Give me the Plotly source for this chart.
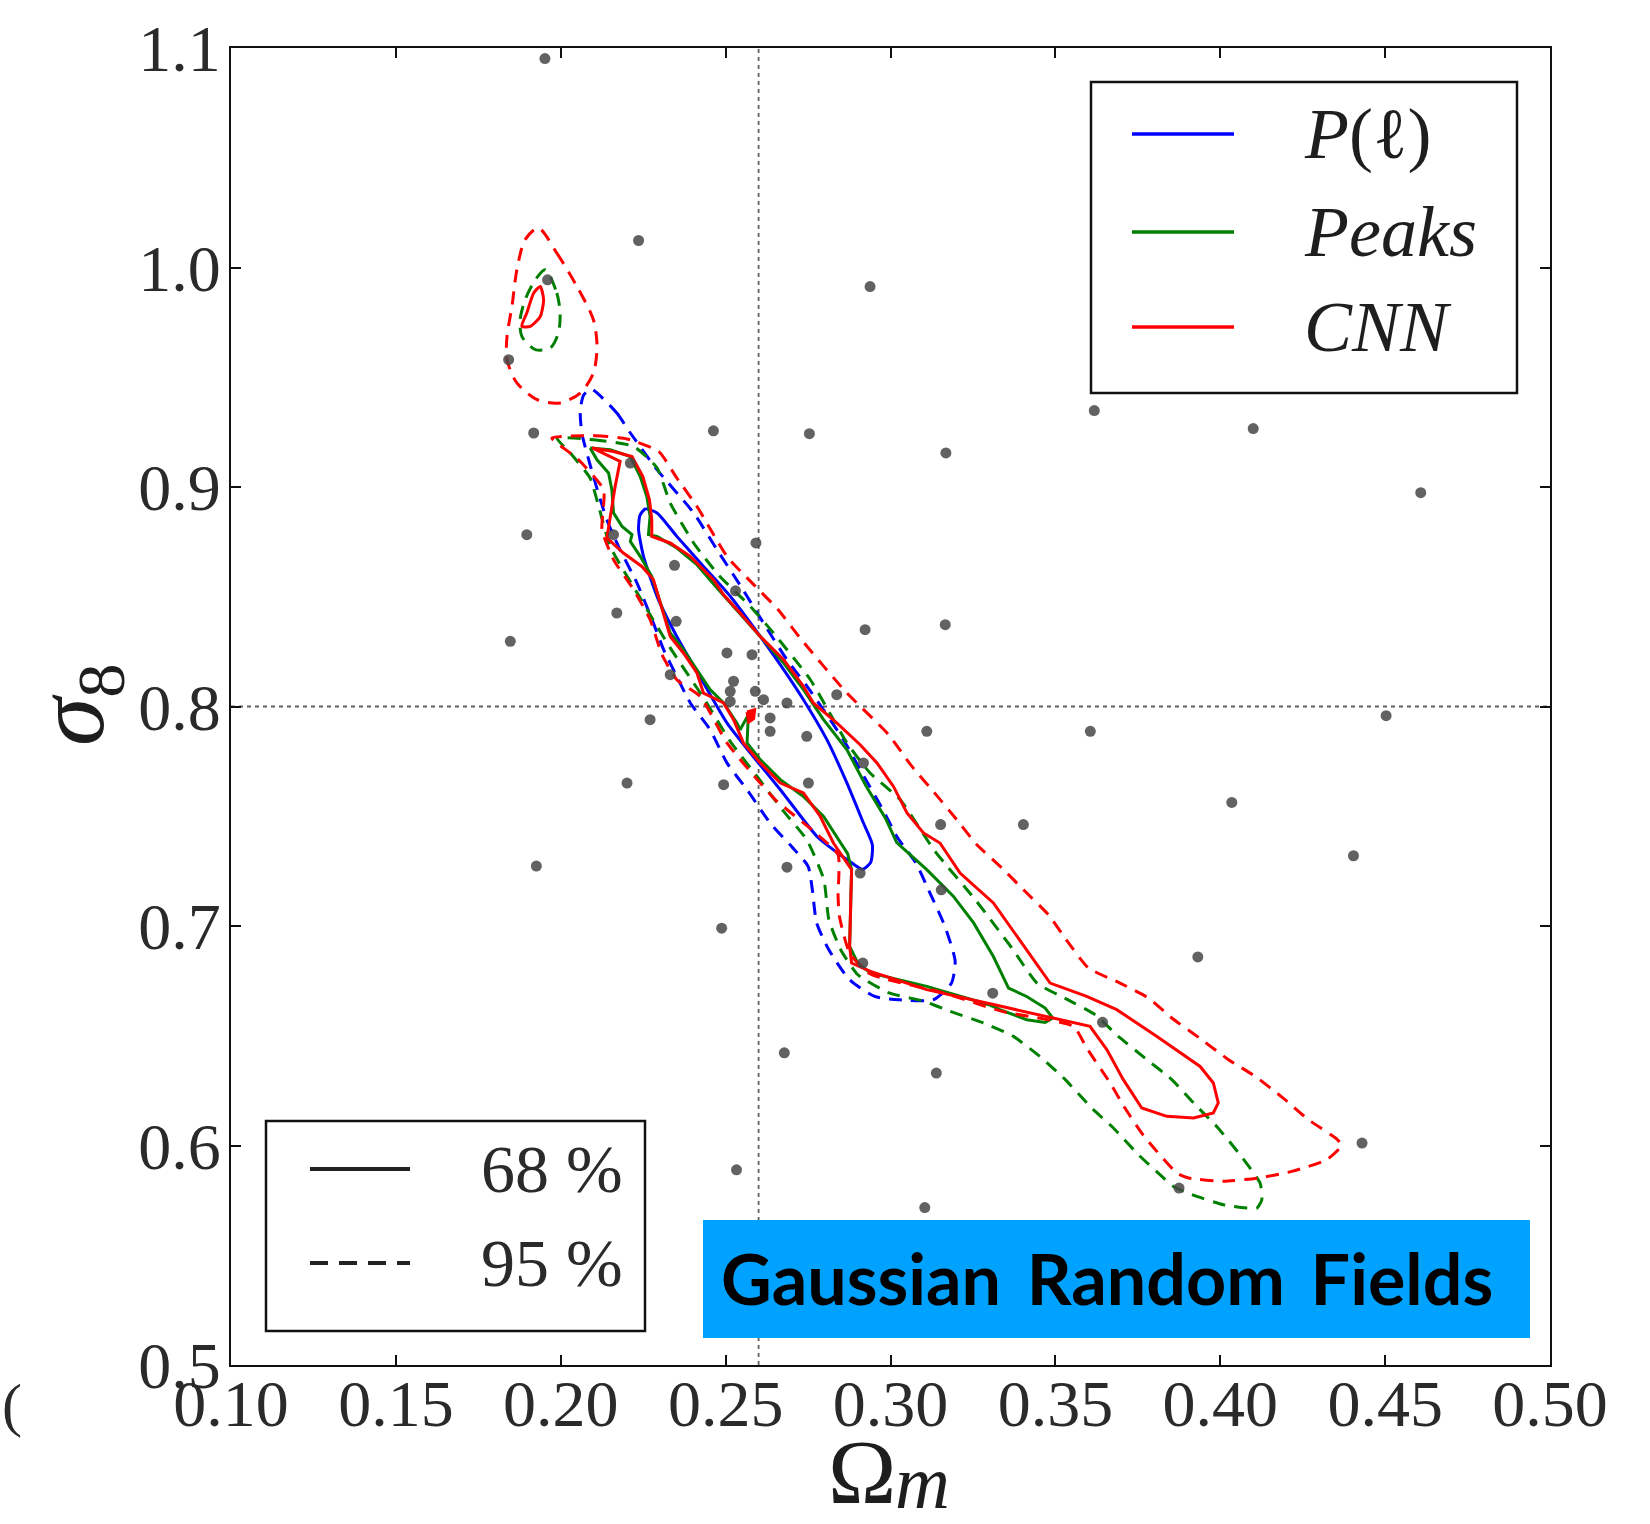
import plotly.graph_objects as go

# ---------------- data ----------------
OM_RANGE = [0.10, 0.50]
S8_RANGE = [0.50, 1.10]
OM_TICKS = [0.10, 0.15, 0.20, 0.25, 0.30, 0.35, 0.40, 0.45, 0.50]
OM_TICK_LABELS = ["0.10", "0.15", "0.20", "0.25", "0.30", "0.35", "0.40", "0.45", "0.50"]
S8_TICKS = [0.5, 0.6, 0.7, 0.8, 0.9, 1.0, 1.1]
S8_TICK_LABELS = ["0.5", "0.6", "0.7", "0.8", "0.9", "1.0", "1.1"]

OM_FID = 0.26
S8_FID = 0.80

# simulated cosmologies (grey points): (Omega_m, sigma_8)
SIMS = [
    (0.1952, 1.0952), (0.2236, 1.0123), (0.2938, 0.9913), (0.1960, 0.9944),
    (0.1842, 0.9580), (0.1918, 0.9246), (0.2463, 0.9256), (0.2754, 0.9243),
    (0.3168, 0.9155), (0.3618, 0.9348), (0.4100, 0.9266), (0.4608, 0.8974),
    (0.2211, 0.9109), (0.1897, 0.8783), (0.2160, 0.8783), (0.2345, 0.8643),
    (0.2592, 0.8745), (0.2530, 0.8527), (0.2170, 0.8426), (0.1847, 0.8297),
    (0.2350, 0.8388), (0.2504, 0.8244), (0.2580, 0.8236), (0.2332, 0.8145),
    (0.2524, 0.8115), (0.2514, 0.8069), (0.2590, 0.8069), (0.2514, 0.8023),
    (0.2615, 0.8031), (0.2686, 0.8016), (0.2837, 0.8054), (0.2923, 0.8350),
    (0.3166, 0.8373), (0.2271, 0.7940), (0.2635, 0.7948), (0.2635, 0.7887),
    (0.2746, 0.7864), (0.3110, 0.7887), (0.3606, 0.7887), (0.4503, 0.7958),
    (0.2918, 0.7743), (0.2201, 0.7651), (0.2494, 0.7644), (0.2751, 0.7651),
    (0.3152, 0.7462), (0.3403, 0.7462), (0.4035, 0.7563), (0.4404, 0.7320),
    (0.1926, 0.7273), (0.2686, 0.7268), (0.2908, 0.7241), (0.3154, 0.7165),
    (0.2488, 0.6990), (0.3932, 0.6859), (0.2916, 0.6831), (0.3310, 0.6694),
    (0.3643, 0.6561), (0.2678, 0.6422), (0.3139, 0.6330), (0.4430, 0.6011),
    (0.3875, 0.5806), (0.2533, 0.5889), (0.3104, 0.5717),
]

# P(l) contours
PL_68 = [
    (0.2256, 0.8900), (0.2292, 0.8882), (0.2352, 0.8775), (0.2433, 0.8638),
    (0.2514, 0.8502), (0.2605, 0.8319), (0.2676, 0.8168), (0.2736, 0.8031),
    (0.2807, 0.7849), (0.2868, 0.7651), (0.2918, 0.7469), (0.2945, 0.7370),
    (0.2940, 0.7290), (0.2915, 0.7258), (0.2880, 0.7290), (0.2826, 0.7348),
    (0.2777, 0.7408), (0.2666, 0.7621), (0.2575, 0.7788), (0.2504, 0.7925),
    (0.2433, 0.8107), (0.2352, 0.8319), (0.2292, 0.8502), (0.2251, 0.8684),
    (0.2236, 0.8805), (0.2240, 0.8870), (0.2256, 0.8900),
]
PL_95 = [
    (0.2092, 0.9447), (0.2170, 0.9337), (0.2211, 0.9246), (0.2292, 0.9079),
    (0.2403, 0.8882), (0.2474, 0.8714), (0.2545, 0.8550), (0.2615, 0.8380),
    (0.2686, 0.8213), (0.2747, 0.8092), (0.2857, 0.7849), (0.2920, 0.7680),
    (0.2977, 0.7530), (0.3019, 0.7408), (0.3077, 0.7287), (0.3115, 0.7165),
    (0.3165, 0.6998), (0.3196, 0.6840), (0.3185, 0.6740), (0.3130, 0.6664),
    (0.3027, 0.6664), (0.2952, 0.6679), (0.2876, 0.6755), (0.2813, 0.6892),
    (0.2776, 0.7014), (0.2763, 0.7165), (0.2750, 0.7272), (0.2700, 0.7362),
    (0.2635, 0.7469), (0.2565, 0.7621), (0.2504, 0.7743), (0.2453, 0.7894),
    (0.2393, 0.8016), (0.2352, 0.8137), (0.2312, 0.8259), (0.2281, 0.8380),
    (0.2231, 0.8563), (0.2180, 0.8714), (0.2140, 0.8850), (0.2099, 0.9048),
    (0.2064, 0.9246), (0.2059, 0.9352), (0.2070, 0.9420), (0.2092, 0.9447),
]

# Peaks contours
PEAKS_68 = [
    (0.2089, 0.9178), (0.2150, 0.9170), (0.2211, 0.9139), (0.2241, 0.9048),
    (0.2261, 0.8957), (0.2271, 0.8866), (0.2266, 0.8783), (0.2292, 0.8775),
    (0.2352, 0.8722), (0.2413, 0.8646), (0.2474, 0.8540), (0.2534, 0.8441),
    (0.2605, 0.8319), (0.2676, 0.8198), (0.2736, 0.8077), (0.2797, 0.7940),
    (0.2868, 0.7803), (0.2925, 0.7640), (0.2985, 0.7490), (0.3019, 0.7380),
    (0.3110, 0.7257), (0.3191, 0.7135), (0.3252, 0.7014), (0.3312, 0.6861),
    (0.3358, 0.6717), (0.3413, 0.6679), (0.3469, 0.6626), (0.3492, 0.6581),
    (0.3469, 0.6561), (0.3413, 0.6573), (0.3332, 0.6619), (0.3302, 0.6640),
    (0.3110, 0.6725), (0.2939, 0.6786), (0.2901, 0.6831), (0.2876, 0.6907),
    (0.2882, 0.7257), (0.2870, 0.7330), (0.2797, 0.7499), (0.2736, 0.7590),
    (0.2666, 0.7667), (0.2605, 0.7758), (0.2565, 0.7834), (0.2569, 0.7963),
    (0.2544, 0.7894), (0.2534, 0.7925), (0.2494, 0.8016), (0.2453, 0.8077),
    (0.2413, 0.8168), (0.2372, 0.8259), (0.2332, 0.8335), (0.2302, 0.8472),
    (0.2276, 0.8593), (0.2241, 0.8684), (0.2211, 0.8752), (0.2216, 0.8783),
    (0.2186, 0.8820), (0.2160, 0.8882), (0.2155, 0.8988), (0.2145, 0.9064),
    (0.2110, 0.9124), (0.2089, 0.9178),
]
PEAKS_95 = [
    (0.1988, 0.9223), (0.2100, 0.9215), (0.2221, 0.9185), (0.2292, 0.9087),
    (0.2332, 0.8927), (0.2403, 0.8745), (0.2478, 0.8600), (0.2575, 0.8456),
    (0.2645, 0.8335), (0.2757, 0.8122), (0.2868, 0.7834), (0.2938, 0.7697),
    (0.3029, 0.7576), (0.3135, 0.7340), (0.3257, 0.7120), (0.3368, 0.6900),
    (0.3444, 0.6740), (0.3530, 0.6670), (0.3621, 0.6596), (0.3691, 0.6497),
    (0.3772, 0.6398), (0.3853, 0.6300), (0.3924, 0.6186), (0.3994, 0.6079),
    (0.4060, 0.5958), (0.4121, 0.5828), (0.4126, 0.5753), (0.4111, 0.5715),
    (0.4010, 0.5730), (0.3914, 0.5776), (0.3858, 0.5813), (0.3823, 0.5859),
    (0.3752, 0.5958), (0.3681, 0.6072), (0.3610, 0.6171), (0.3530, 0.6300),
    (0.3459, 0.6398), (0.3373, 0.6497), (0.3282, 0.6558), (0.3181, 0.6611),
    (0.3102, 0.6657), (0.2996, 0.6695), (0.2901, 0.6778), (0.2849, 0.6892),
    (0.2813, 0.7029), (0.2798, 0.7211), (0.2746, 0.7393), (0.2676, 0.7522),
    (0.2595, 0.7682), (0.2514, 0.7841), (0.2433, 0.8039), (0.2332, 0.8267),
    (0.2241, 0.8494), (0.2150, 0.8729), (0.2115, 0.8912), (0.2089, 0.9041),
    (0.2029, 0.9155), (0.1988, 0.9223),
]
PEAKS_95_ISLAND = [
    (0.1953, 0.9990), (0.1988, 0.9884), (0.1998, 0.9793), (0.1993, 0.9702),
    (0.1968, 0.9633), (0.1923, 0.9626), (0.1882, 0.9686), (0.1877, 0.9762),
    (0.1892, 0.9853), (0.1923, 0.9944), (0.1953, 0.9990),
]

# CNN contours
CNN_68 = [
    (0.2095, 0.9178), (0.2160, 0.9162), (0.2216, 0.9139), (0.2249, 0.9048),
    (0.2269, 0.8942), (0.2276, 0.8851), (0.2276, 0.8775), (0.2332, 0.8745),
    (0.2393, 0.8684), (0.2463, 0.8578), (0.2494, 0.8509), (0.2544, 0.8426),
    (0.2605, 0.8319), (0.2676, 0.8213), (0.2736, 0.8092), (0.2766, 0.8016),
    (0.2837, 0.7925), (0.2908, 0.7826), (0.2959, 0.7743), (0.3009, 0.7636),
    (0.3050, 0.7515), (0.3100, 0.7424), (0.3150, 0.7378), (0.3211, 0.7241),
    (0.3312, 0.7105), (0.3383, 0.6953), (0.3484, 0.6740), (0.3595, 0.6679),
    (0.3686, 0.6619), (0.3808, 0.6497), (0.3939, 0.6360), (0.3979, 0.6285),
    (0.3994, 0.6194), (0.3979, 0.6148), (0.3919, 0.6125), (0.3838, 0.6133),
    (0.3762, 0.6171), (0.3706, 0.6300), (0.3656, 0.6437), (0.3605, 0.6543),
    (0.3514, 0.6573), (0.3312, 0.6642), (0.3110, 0.6710), (0.2939, 0.6793),
    (0.2882, 0.6831), (0.2876, 0.6907), (0.2882, 0.7257), (0.2827, 0.7378),
    (0.2787, 0.7499), (0.2736, 0.7606), (0.2666, 0.7651), (0.2605, 0.7743),
    (0.2554, 0.7834), (0.2524, 0.7940), (0.2494, 0.8016), (0.2433, 0.8061),
    (0.2413, 0.8153), (0.2372, 0.8244), (0.2332, 0.8319), (0.2302, 0.8472),
    (0.2281, 0.8578), (0.2246, 0.8638), (0.2190, 0.8699), (0.2140, 0.8768),
    (0.2150, 0.8866), (0.2160, 0.8973), (0.2165, 0.9003), (0.2180, 0.9117),
    (0.2095, 0.9178),
]
CNN_68_ISLAND = [
    (0.1938, 0.9914), (0.1948, 0.9853), (0.1938, 0.9777), (0.1908, 0.9732),
    (0.1882, 0.9732), (0.1897, 0.9793), (0.1918, 0.9884), (0.1938, 0.9914),
]
CNN_68_SPOT = [
    (0.2565, 0.7975), (0.2588, 0.7985), (0.2585, 0.7945), (0.2570, 0.7930),
    (0.2565, 0.7975),
]
CNN_95 = [
    (0.1973, 0.9223), (0.2105, 0.9234), (0.2201, 0.9219), (0.2297, 0.9162),
    (0.2352, 0.9041), (0.2413, 0.8912), (0.2504, 0.8684), (0.2580, 0.8563),
    (0.2660, 0.8440), (0.2726, 0.8312), (0.2863, 0.8069), (0.2994, 0.7872),
    (0.3065, 0.7727), (0.3130, 0.7613), (0.3201, 0.7484), (0.3262, 0.7370),
    (0.3338, 0.7264), (0.3408, 0.7158), (0.3479, 0.7051), (0.3540, 0.6923),
    (0.3600, 0.6809), (0.3696, 0.6740), (0.3782, 0.6672), (0.3853, 0.6581),
    (0.3944, 0.6482), (0.4025, 0.6391), (0.4106, 0.6315), (0.4191, 0.6216),
    (0.4267, 0.6118), (0.4353, 0.6030), (0.4368, 0.6000), (0.4323, 0.5935),
    (0.4217, 0.5882), (0.4116, 0.5852), (0.4010, 0.5837), (0.3904, 0.5852),
    (0.3868, 0.5875), (0.3767, 0.6046), (0.3711, 0.6171), (0.3666, 0.6285),
    (0.3595, 0.6444), (0.3555, 0.6543), (0.3338, 0.6611), (0.3150, 0.6700),
    (0.2980, 0.6760), (0.2933, 0.6786), (0.2876, 0.6876), (0.2845, 0.7044),
    (0.2841, 0.7137), (0.2841, 0.7325), (0.2772, 0.7425), (0.2650, 0.7576),
    (0.2605, 0.7651), (0.2504, 0.7834), (0.2423, 0.8046), (0.2352, 0.8122),
    (0.2307, 0.8236), (0.2271, 0.8396), (0.2221, 0.8532), (0.2160, 0.8669),
    (0.2125, 0.8805), (0.2130, 0.8988), (0.2050, 0.9130), (0.1973, 0.9223),
]
CNN_95_ISLAND = [
    (0.1932, 1.0180), (0.1988, 1.0066), (0.2049, 0.9914), (0.2099, 0.9762),
    (0.2110, 0.9641), (0.2099, 0.9519), (0.2059, 0.9428), (0.1998, 0.9383),
    (0.1928, 0.9398), (0.1867, 0.9474), (0.1837, 0.9580), (0.1837, 0.9686),
    (0.1852, 0.9823), (0.1867, 0.9990), (0.1892, 1.0127), (0.1932, 1.0180),
]

METHOD_LABELS = ["<i>P</i>(ℓ)", "<i>Peaks</i>", "<i>CNN</i>"]
LEVEL_LABELS = ["68 %", "95 %"]
BOX_LABEL = "Gaussian\u2009 Random\u2009 Fields"

# ---------------- style ----------------
BLUE = "#0000FF"
GREEN = "#008000"
RED = "#FF0000"
DASH = "13px,9px"
SERIF = "Liberation Serif"
TXT = "#1e1e1e"

W, H = 1650, 1524
ML, MR, MT, MB = 231, 100, 48, 159
PW, PH = W - ML - MR, H - MT - MB


def px(xf):
    return (xf - ML) / PW


def py(yf):
    return (H - MB - yf) / PH


fig = go.Figure()

# fiducial cross
for xs, ys in (([OM_FID, OM_FID], S8_RANGE), (OM_RANGE, [S8_FID, S8_FID])):
    fig.add_trace(go.Scatter(x=xs, y=ys, mode="lines",
                             line=dict(color="#606060", width=1.8, dash="4px,4px"),
                             hoverinfo="skip", showlegend=False))


def add_contour(pts, color, dash=None, smooth=0.0, fill=False):
    xs = [p[0] for p in pts]
    ys = [p[1] for p in pts]
    line = dict(color=color, width=3)
    if dash:
        line["dash"] = dash
    if smooth > 0:
        line["shape"] = "spline"
        line["smoothing"] = smooth
    fig.add_trace(go.Scatter(x=xs, y=ys, mode="lines", line=line,
                             fill="toself" if fill else None,
                             fillcolor=color if fill else None,
                             hoverinfo="skip", showlegend=False))


add_contour(PL_95, BLUE, DASH, 0.6)
add_contour(PL_68, BLUE, None, 0.6)
add_contour(PEAKS_95, GREEN, DASH, 0.5)
add_contour(PEAKS_95_ISLAND, GREEN, DASH, 0.8)
add_contour(PEAKS_68, GREEN)
add_contour(CNN_95, RED, DASH, 0.5)
add_contour(CNN_95_ISLAND, RED, DASH, 0.8)
add_contour(CNN_68, RED)
add_contour(CNN_68_ISLAND, RED, None, 0.6)
add_contour(CNN_68_SPOT, RED, None, 0.0, fill=True)

fig.add_trace(go.Scatter(x=[p[0] for p in SIMS], y=[p[1] for p in SIMS],
                         mode="markers",
                         marker=dict(size=11, color="rgba(70,70,70,0.85)", line=dict(width=0)),
                         hoverinfo="skip", showlegend=False))

axis_common = dict(
    showgrid=False, zeroline=False, showline=True, linewidth=2, linecolor="#111111",
    mirror="ticks", ticks="inside", ticklen=10, tickwidth=1.5, tickcolor="#111111",
    tickfont=dict(family=SERIF, size=66, color="#2a2a2a"),
)

fig.update_layout(
    width=W, height=H,
    margin=dict(l=ML, r=MR, t=MT, b=MB),
    paper_bgcolor="white", plot_bgcolor="white",
    showlegend=False,
    xaxis=dict(range=OM_RANGE, tickvals=OM_TICKS, ticktext=OM_TICK_LABELS,
               ticklabelstandoff=-20, **axis_common),
    yaxis=dict(range=S8_RANGE, tickvals=S8_TICKS, ticktext=S8_TICK_LABELS,
               ticklabelstandoff=-5, **axis_common),
)

shapes = []
annotations = []

# axis titles
annotations.append(dict(text="Ω", xref="paper", yref="paper",
                        x=px(862), y=py(1472), xanchor="center", yanchor="middle",
                        showarrow=False, font=dict(family=SERIF, size=92, color=TXT)))
annotations.append(dict(text="<i>m</i>", xref="paper", yref="paper",
                        x=px(922), y=py(1482), xanchor="center", yanchor="middle",
                        showarrow=False, font=dict(family=SERIF, size=76, color=TXT)))
annotations.append(dict(text="<i>σ</i><sub>8</sub>", xref="paper", yref="paper",
                        x=px(78), y=py(705), xanchor="center", yanchor="middle",
                        textangle=-90, showarrow=False,
                        font=dict(family=SERIF, size=98, color=TXT)))

# method legend (top right)
shapes.append(dict(type="rect", xref="paper", yref="paper",
                   x0=px(1091), x1=px(1517), y0=py(393), y1=py(82),
                   line=dict(color="#111111", width=2.5), fillcolor="white", layer="above"))
for label, color, yf in zip(METHOD_LABELS, [BLUE, GREEN, RED], [134, 232, 327]):
    shapes.append(dict(type="line", xref="paper", yref="paper",
                       x0=px(1132), x1=px(1234), y0=py(yf), y1=py(yf),
                       line=dict(color=color, width=3.5), layer="above"))
    annotations.append(dict(text=label, xref="paper", yref="paper",
                            x=px(1302), y=py(yf), xanchor="left", yanchor="middle",
                            showarrow=False, font=dict(family=SERIF, size=72, color=TXT)))

# confidence legend (bottom left)
shapes.append(dict(type="rect", xref="paper", yref="paper",
                   x0=px(266), x1=px(645), y0=py(1331), y1=py(1121),
                   line=dict(color="#111111", width=2.5), fillcolor="white", layer="above"))
for label, dash, yf in zip(LEVEL_LABELS, [None, "18px,11px"], [1169, 1263]):
    ln = dict(color="#222222", width=4)
    if dash:
        ln["dash"] = dash
    shapes.append(dict(type="line", xref="paper", yref="paper",
                       x0=px(310), x1=px(410), y0=py(yf), y1=py(yf),
                       line=ln, layer="above"))
    annotations.append(dict(text=label, xref="paper", yref="paper",
                            x=px(479), y=py(yf), xanchor="left", yanchor="middle",
                            showarrow=False, font=dict(family=SERIF, size=68, color="#2a2a2a")))

# blue label box
shapes.append(dict(type="rect", xref="paper", yref="paper",
                   x0=px(703), x1=px(1530), y0=py(1338), y1=py(1220),
                   line=dict(width=0), fillcolor="#00A2FF", layer="above"))
annotations.append(dict(text="<b>" + BOX_LABEL + "</b>", xref="paper", yref="paper",
                        x=px(719), y=py(1278), xanchor="left", yanchor="middle",
                        showarrow=False, font=dict(family="Lato", size=70, color="black")))

# clipped glyph at the far left edge
annotations.append(dict(text="(", xref="paper", yref="paper",
                        x=px(0), y=py(1405), xanchor="left", yanchor="middle",
                        showarrow=False, font=dict(family=SERIF, size=60, color="#2a2a2a")))

fig.update_layout(shapes=shapes, annotations=annotations)

fig.write_html("out.html")
